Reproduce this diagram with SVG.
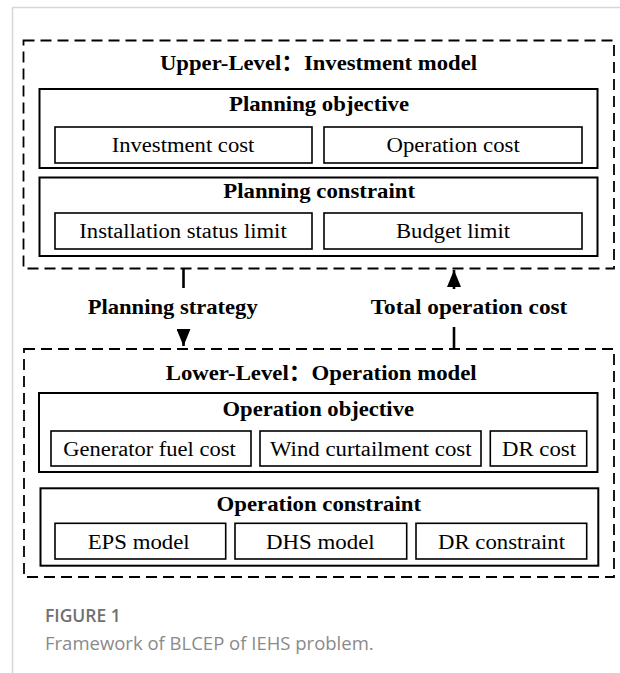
<svg xmlns="http://www.w3.org/2000/svg" width="620" height="673" viewBox="0 0 620 673">
  <style>
    .frame { fill: none; stroke: #d6d6d6; stroke-width: 1.5; }
    .level { fill: none; stroke: #000; stroke-width: 1.8; stroke-dasharray: 11 6; }
    .group { fill: #fff; stroke: #000; stroke-width: 2; }
    .item { fill: #fff; stroke: #000; stroke-width: 1.6; }
    .title { font-family: "Liberation Serif", "Noto Sans CJK SC", serif; font-weight: bold; font-size: 22px; fill: #000; }
    .head { font-family: "Liberation Serif", "Noto Sans CJK SC", serif; font-weight: bold; font-size: 21.5px; fill: #000; }
    .label { font-family: "Liberation Serif", serif; font-size: 20.5px; fill: #000; }
    .link { fill: none; stroke: #000; stroke-width: 2.6; }
    .fig { font-family: "Open Sans", "Noto Sans", sans-serif; font-weight: 600; font-size: 17.5px; fill: #707070; }
    .cap { font-family: "Open Sans", "Noto Sans", sans-serif; font-size: 18.5px; fill: #8a8a8a; }
  </style>
  <defs>
    <marker id="arrow" viewBox="0 0 17 14" refX="17" refY="7" markerWidth="17" markerHeight="14" markerUnits="userSpaceOnUse" orient="auto">
      <path d="M0,0 L17,7 L0,14 z" fill="#000"/>
    </marker>
  </defs>

  <rect width="620" height="673" fill="#fff"/>
  <path class="frame" d="M12.5 673 V7.5 H620"/>

  <!-- upper level: investment model -->
  <g id="upper-level">
    <rect class="level" x="23.5" y="40.5" width="590.5" height="228"/>
    <text class="title" x="160" y="69.5" textLength="317" lengthAdjust="spacingAndGlyphs">Upper-Level：Investment model</text>
  </g>
  <g id="planning-objective">
    <rect class="group" x="39.5" y="89" width="558" height="79"/>
    <text class="head" x="229" y="110.5" textLength="180" lengthAdjust="spacingAndGlyphs">Planning objective</text>
  </g>
  <g id="investment-cost">
    <rect class="item" x="55" y="127" width="257" height="36"/>
    <text class="label" x="111.7" y="151.5" textLength="142.6" lengthAdjust="spacingAndGlyphs">Investment cost</text>
  </g>
  <g id="operation-cost">
    <rect class="item" x="324" y="127" width="258" height="36"/>
    <text class="label" x="386.5" y="151.5" textLength="133.2" lengthAdjust="spacingAndGlyphs">Operation cost</text>
  </g>
  <g id="planning-constraint">
    <rect class="group" x="39.5" y="177.5" width="558" height="78.5"/>
    <text class="head" x="223.3" y="198" textLength="191.7" lengthAdjust="spacingAndGlyphs">Planning constraint</text>
  </g>
  <g id="installation-status-limit">
    <rect class="item" x="55" y="213" width="257" height="36"/>
    <text class="label" x="79.3" y="237.5" textLength="207.4" lengthAdjust="spacingAndGlyphs">Installation status limit</text>
  </g>
  <g id="budget-limit">
    <rect class="item" x="324" y="213" width="258" height="36"/>
    <text class="label" x="396" y="237.5" textLength="114" lengthAdjust="spacingAndGlyphs">Budget limit</text>
  </g>

  <!-- exchange between the two levels -->
  <g id="connectors">
    <path class="link" d="M183.5 268 V288"/>
    <path class="link" d="M183.5 329 V346" marker-end="url(#arrow)"/>
    <path class="link" d="M454 349 V327"/>
    <path class="link" d="M454 289 V270" marker-end="url(#arrow)"/>
    <text class="head" x="87.7" y="314" textLength="170" lengthAdjust="spacingAndGlyphs">Planning strategy</text>
    <text class="head" x="370.7" y="314" textLength="196.6" lengthAdjust="spacingAndGlyphs">Total operation cost</text>
  </g>

  <!-- lower level: operation model -->
  <g id="lower-level">
    <rect class="level" x="24" y="349" width="590" height="228"/>
    <text class="title" x="165.7" y="379.5" textLength="311" lengthAdjust="spacingAndGlyphs">Lower-Level：Operation model</text>
  </g>
  <g id="operation-objective">
    <rect class="group" x="39" y="393" width="558.5" height="79"/>
    <text class="head" x="222.5" y="415.5" textLength="191.5" lengthAdjust="spacingAndGlyphs">Operation objective</text>
  </g>
  <g id="generator-fuel-cost">
    <rect class="item" x="51" y="431" width="200" height="35"/>
    <text class="label" x="63.3" y="455.5" textLength="172.4" lengthAdjust="spacingAndGlyphs">Generator fuel cost</text>
  </g>
  <g id="wind-curtailment-cost">
    <rect class="item" x="260" y="431" width="221" height="35"/>
    <text class="label" x="270" y="455.5" textLength="201.5" lengthAdjust="spacingAndGlyphs">Wind curtailment cost</text>
  </g>
  <g id="dr-cost">
    <rect class="item" x="490.3" y="431" width="96.4" height="35"/>
    <text class="label" x="502" y="455.5" textLength="74" lengthAdjust="spacingAndGlyphs">DR cost</text>
  </g>
  <g id="operation-constraint">
    <rect class="group" x="40.5" y="488.3" width="557.8" height="77.4"/>
    <text class="head" x="216.6" y="511" textLength="204.4" lengthAdjust="spacingAndGlyphs">Operation constraint</text>
  </g>
  <g id="eps-model">
    <rect class="item" x="55" y="523.3" width="170.7" height="35.7"/>
    <text class="label" x="87.7" y="548.5" textLength="102" lengthAdjust="spacingAndGlyphs">EPS model</text>
  </g>
  <g id="dhs-model">
    <rect class="item" x="235" y="523.3" width="171.7" height="35.7"/>
    <text class="label" x="266" y="548.5" textLength="108.7" lengthAdjust="spacingAndGlyphs">DHS model</text>
  </g>
  <g id="dr-constraint">
    <rect class="item" x="416" y="523.3" width="170.7" height="35.7"/>
    <text class="label" x="438" y="548.5" textLength="127" lengthAdjust="spacingAndGlyphs">DR constraint</text>
  </g>

  <!-- caption -->
  <text class="fig" x="45" y="621.7">FIGURE 1</text>
  <text class="cap" x="45" y="650">Framework of BLCEP of IEHS problem.</text>
</svg>
